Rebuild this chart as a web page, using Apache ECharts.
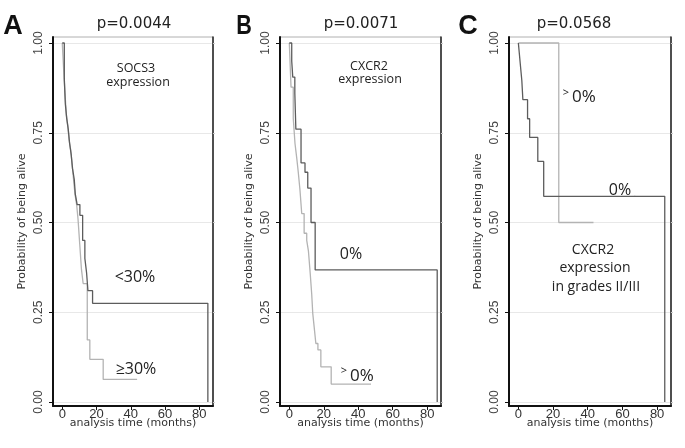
<!DOCTYPE html>
<html>
<head>
<meta charset="utf-8">
<script src="https://cdn.jsdelivr.net/npm/echarts@6/dist/echarts.min.js"></script>
<style>html,body{margin:0;padding:0;background:#fff}#c{width:685px;height:448px}</style>
</head>
<body>
<div id="c"></div>
<script>
// ---- data ----
const xTicks = [0, 20, 40, 60, 80];
const yTicks = [0, 0.25, 0.5, 0.75, 1];
const panelLetters = ['A', 'B', 'C'];
const pValues = ['p=0.0044', 'p=0.0071', 'p=0.0568'];
const xAxisTitle = 'analysis time (months)';
const yAxisTitle = 'Probability of being alive';

// Panel A: SOCS3 expression
const aLowTimes = [0, 1.2, 1.8, 2.6, 3.5, 4.3, 5.2, 6.0, 7.0, 7.6, 8.7, 10.3, 11.9, 13.2, 14.2, 15.0, 17.7, 85];
const aLowSurv  = [1, 0.90, 0.83, 0.79, 0.76, 0.72, 0.69, 0.65, 0.62, 0.58, 0.55, 0.52, 0.45, 0.40, 0.36, 0.31, 0.275, 0];
const aHighTimes = [0, 1.0, 1.6, 2.4, 3.2, 4.0, 5.0, 5.8, 6.6, 7.4, 8.4, 9.2, 10.2, 11.2, 12.2, 14.6, 16.1, 23.9, 43.7];
const aHighSurv  = [1, 0.91, 0.86, 0.80, 0.77, 0.73, 0.70, 0.66, 0.62, 0.58, 0.55, 0.51, 0.44, 0.37, 0.33, 0.173, 0.119, 0.063, 0.063];

// Panel B: CXCR2 expression
const bZeroTimes = [0, 1.4, 2.0, 3.2, 3.8, 6.8, 9.1, 10.7, 12.6, 15.0, 85.8];
const bZeroSurv  = [1, 0.95, 0.905, 0.86, 0.76, 0.666, 0.64, 0.596, 0.50, 0.368, 0];
const bPosTimes = [0, 1.0, 2.3, 3.3, 4.3, 5.2, 6.2, 7.2, 8.6, 10.1, 11.1, 12.1, 13.0, 13.6, 14.4, 15.4, 16.6, 18.3, 24.3, 47.4];
const bPosSurv  = [1, 0.877, 0.79, 0.72, 0.68, 0.64, 0.59, 0.525, 0.47, 0.45, 0.42, 0.36, 0.30, 0.247, 0.21, 0.163, 0.145, 0.098, 0.05, 0.05];

// Panel C: CXCR2 expression in grades II/III
const cZeroTimes = [0, 1.0, 2.0, 2.6, 5.3, 6.5, 11.2, 14.6, 84.4];
const cZeroSurv  = [1, 0.947, 0.895, 0.842, 0.789, 0.737, 0.67, 0.573, 0];
const cPosTimes = [0, 23.3, 43.3];
const cPosSurv  = [1, 0.5, 0.5];

// ---- layout/styles ----
const DARK = '#5c5c5c', LIGHT = '#b3b3b3';
const panels = [
  {left: 53, right: 213, curves: [[aHighTimes, aHighSurv, LIGHT], [aLowTimes, aLowSurv, DARK]]},
  {left: 280, right: 441, curves: [[bPosTimes, bPosSurv, LIGHT], [bZeroTimes, bZeroSurv, DARK]]},
  {left: 509, right: 671, curves: [[cPosTimes, cPosSurv, LIGHT], [cZeroTimes, cZeroSurv, DARK]]}
];
const TOP = 37, BOTTOM = 406;
const Y_MIN = -4 / 359, Y_MAX = 1 + 6 / 359;
const X_MIN = -5.4, X_MAX = 88;

const grids = [], xAxes = [], yAxes = [], series = [];
panels.forEach((p, i) => {
  grids.push({left: p.left, width: p.right - p.left, top: TOP, height: BOTTOM - TOP,
    show: true, borderColor: '#b0b0b0', borderWidth: 1, backgroundColor: 'transparent'});
  xAxes.push({
    type: 'value', gridIndex: i, min: X_MIN, max: X_MAX,
    axisLine: {show: true, onZero: false, lineStyle: {color: '#111', width: 2}},
    axisTick: {show: true, customValues: xTicks, length: 4, lineStyle: {color: '#111', width: 1}},
    axisLabel: {customValues: xTicks, margin: 2, color: '#333', fontSize: 13, fontFamily: 'Liberation Sans'},
    splitLine: {show: false},
    name: xAxisTitle, nameLocation: 'middle', nameGap: 12, nameMoveOverlap: false,
    nameTextStyle: {fontSize: 11, color: '#333', fontFamily: 'DejaVu Sans'}
  });
  yAxes.push({
    type: 'value', gridIndex: i, min: Y_MIN, max: Y_MAX, position: 'left',
    axisLine: {show: true, onZero: false, lineStyle: {color: '#111', width: 2}},
    axisTick: {show: true, customValues: yTicks, length: 4, lineStyle: {color: '#111', width: 1}},
    axisLabel: {customValues: yTicks, rotate: 90, margin: 8, color: '#444', fontSize: 12,
      fontFamily: 'Liberation Sans', formatter: v => v.toFixed(2)},
    splitLine: {show: true, lineStyle: {color: '#e8e8e8', width: 1}},
    name: yAxisTitle, nameLocation: 'middle', nameGap: 25, nameRotate: 90, nameMoveOverlap: false,
    nameTextStyle: {fontSize: 11, color: '#333', fontFamily: 'DejaVu Sans'}
  });
  yAxes.push({
    type: 'value', gridIndex: i, min: Y_MIN, max: Y_MAX, position: 'right',
    axisLine: {show: true, onZero: false, lineStyle: {color: '#222', width: 1.5}},
    axisTick: {show: true, customValues: yTicks, length: 2, lineStyle: {color: '#ccc', width: 1}},
    axisLabel: {show: false}, splitLine: {show: false}
  });
  p.curves.forEach(([ts, ss, col]) => {
    series.push({
      type: 'line', xAxisIndex: i, yAxisIndex: 2 * i, step: 'end', showSymbol: false,
      symbol: 'none', silent: true, animation: false,
      lineStyle: {color: col, width: 1.3},
      data: ts.map((t, k) => [t, ss[k]])
    });
  });
});

function txt(x, y, text, size, style, extra) {
  return Object.assign({type: 'text', x: x, y: y, silent: true,
    style: Object.assign({text: text, fontSize: size, fontFamily: 'Open Sans', fill: '#222',
      textAlign: 'center', textVerticalAlign: 'middle'}, style || {})}, extra || {});
}
const bold = {fontWeight: 'bold', fontFamily: 'Liberation Sans', fill: '#111'};
const graphics = [
  txt(13, 27, panelLetters[0], 27, bold),
  txt(244, 27, panelLetters[1], 27, bold, {scaleX: 0.8}),
  txt(468, 27, panelLetters[2], 27, bold),
  txt(134, 24, pValues[0], 15, {fontFamily: 'DejaVu Sans'}),
  txt(361, 24, pValues[1], 15, {fontFamily: 'DejaVu Sans'}),
  txt(574, 24, pValues[2], 15, {fontFamily: 'DejaVu Sans'}),
  // A annotations
  txt(136, 68, 'SOCS3', 12.5), txt(138, 82, 'expression', 12.5),
  txt(135, 277, '<30%', 16), txt(136, 369, '≥30%', 16),
  // B annotations
  txt(369, 66, 'CXCR2', 12.5), txt(370, 79, 'expression', 12.5),
  txt(351, 254, '0%', 16),
  txt(344, 371, '>', 11), txt(362, 376, '0%', 17),
  // C annotations
  txt(566, 93, '>', 11), txt(584, 97, '0%', 17),
  txt(620, 190, '0%', 16), txt(635, 194, '.', 9),
  txt(593, 250, 'CXCR2', 14), txt(595, 268, 'expression', 14), txt(596, 287, 'in grades II/III', 14)
];

const chart = echarts.init(document.getElementById('c'), null, {renderer: 'canvas'});
chart.setOption({
  backgroundColor: '#fff', animation: false,
  grid: grids, xAxis: xAxes, yAxis: yAxes, series: series, graphic: graphics
});
</script>
</body>
</html>
